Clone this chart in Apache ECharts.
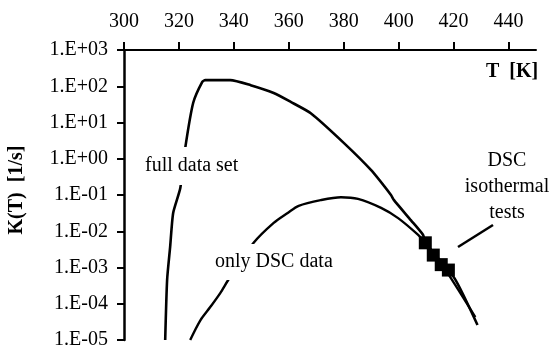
<!DOCTYPE html>
<html><head><meta charset="utf-8">
<script src="https://cdn.jsdelivr.net/npm/echarts@6/dist/echarts.min.js"></script>
<style>html,body{margin:0;padding:0;background:#fff}#c{width:558px;height:350px}</style>
</head><body><div id="c"></div>
<script>
// Temperature T [K] and rate K(T) [1/s]
const fullT = [315.0, 315.7, 316.8, 317.9, 320.5, 322.3, 325.2, 328.5, 329.6, 338.7, 346.1, 354.5, 360.7, 368.0, 380.1, 389.9, 397.2, 398.3, 404.5, 408.9, 409.7, 420.3, 428.7];
const fullK = [1e-5, 4.6e-4, 3.7e-3, 3.2e-2, 0.155, 2.0, 35, 132, 148, 148, 107, 65, 37, 18, 2.7, 0.49, 0.10, 0.072, 0.020, 0.0079, 0.0048, 5.1e-4, 2.6e-5];
const dscT = [324.1, 327.8, 331.4, 335.1, 338.0, 347.2, 354.5, 359.6, 363.6, 371.6, 379.0, 385.2, 393.6, 399.8, 407.1, 409.7, 415.5, 427.9];
const dscK = [1e-5, 3.5e-5, 8.1e-5, 2.0e-4, 4.6e-4, 4.8e-3, 0.017, 0.032, 0.050, 0.072, 0.087, 0.078, 0.044, 0.023, 0.0079, 0.0048, 1.3e-3, 4.3e-5];
const isoT = [409.7, 412.6, 415.5, 418.1];
const isoK = [0.0048, 0.0022, 0.0012, 0.00085];
const xTickValues = [300, 320, 340, 360, 380, 400, 420, 440];
const yTickLabels = ['1.E-05', '1.E-04', '1.E-03', '1.E-02', '1.E-01', '1.E+00', '1.E+01', '1.E+02', '1.E+03'];

const FONT = 'Liberation Serif';
const zip = (a, b) => a.map((v, i) => [v, b[i]]);
const chart = echarts.init(document.getElementById('c'), null, {renderer: 'canvas'});
chart.setOption({
  animation: false,
  backgroundColor: '#fff',
  grid: {left: 124, top: 50, right: 22, bottom: 10, containLabel: false},
  xAxis: {
    type: 'value', position: 'top', min: 300, max: 450, interval: 20,
    axisLine: {show: true, lineStyle: {color: '#000', width: 2}},
    axisTick: {show: true, inside: false, length: 8, lineStyle: {color: '#000', width: 2}, customValues: xTickValues},
    axisLabel: {color: '#000', fontFamily: FONT, fontSize: 20, margin: 18, customValues: xTickValues},
    splitLine: {show: false}
  },
  yAxis: {
    type: 'log', logBase: 10, min: 1e-5, max: 1e3, interval: 1,
    axisLine: {show: true, lineStyle: {color: '#000', width: 2.5}},
    axisTick: {show: true, inside: false, length: 7, lineStyle: {color: '#000', width: 2}},
    axisLabel: {color: '#000', fontFamily: FONT, fontSize: 20, margin: 16,
      formatter: v => yTickLabels[Math.round(Math.log10(v)) + 5] || ''},
    splitLine: {show: false}
  },
  series: [
    {type: 'line', data: zip(fullT, fullK), symbol: 'none', smooth: 0.2, lineStyle: {color: '#000', width: 2.6}, z: 3},
    {type: 'line', data: zip(dscT, dscK), symbol: 'none', smooth: 0.3, lineStyle: {color: '#000', width: 2.4}, z: 3},
    {type: 'scatter', data: zip(isoT, isoK), symbol: 'rect', symbolSize: 13, itemStyle: {color: '#000', opacity: 1}, z: 4}
  ],
  graphic: [
    {type: 'text', z: 100, left: 143, top: 147, style: {text: 'full data set', font: '20px "Liberation Serif"', fill: '#000', backgroundColor: '#fff', padding: [9, 2]}},
    {type: 'text', z: 100, left: 213, top: 244, style: {text: 'only DSC data', font: '20px "Liberation Serif"', fill: '#000', backgroundColor: '#fff', padding: [8, 2]}},
    {type: 'text', z: 100, x: 507, y: 161, style: {text: 'DSC', font: '20px "Liberation Serif"', fill: '#000', align: 'center', verticalAlign: 'middle'}},
    {type: 'text', z: 100, x: 507, y: 187, style: {text: 'isothermal', font: '20px "Liberation Serif"', fill: '#000', align: 'center', verticalAlign: 'middle'}},
    {type: 'text', z: 100, x: 507, y: 213, style: {text: 'tests', font: '20px "Liberation Serif"', fill: '#000', align: 'center', verticalAlign: 'middle'}},
    {type: 'line', z: 100, shape: {x1: 458, y1: 247, x2: 493, y2: 225}, style: {stroke: '#000', lineWidth: 2.5}},
    {type: 'text', z: 100, x: 512, y: 72, style: {text: 'T  [K]', font: 'bold 20px "Liberation Serif"', fill: '#000', align: 'center', verticalAlign: 'middle'}},
    {type: 'text', z: 100, x: 17, y: 190, rotation: Math.PI / 2, style: {text: 'K(T)  [1/s]', font: 'bold 20px "Liberation Serif"', fill: '#000', align: 'center', verticalAlign: 'middle'}}
  ]
});
</script></body></html>
